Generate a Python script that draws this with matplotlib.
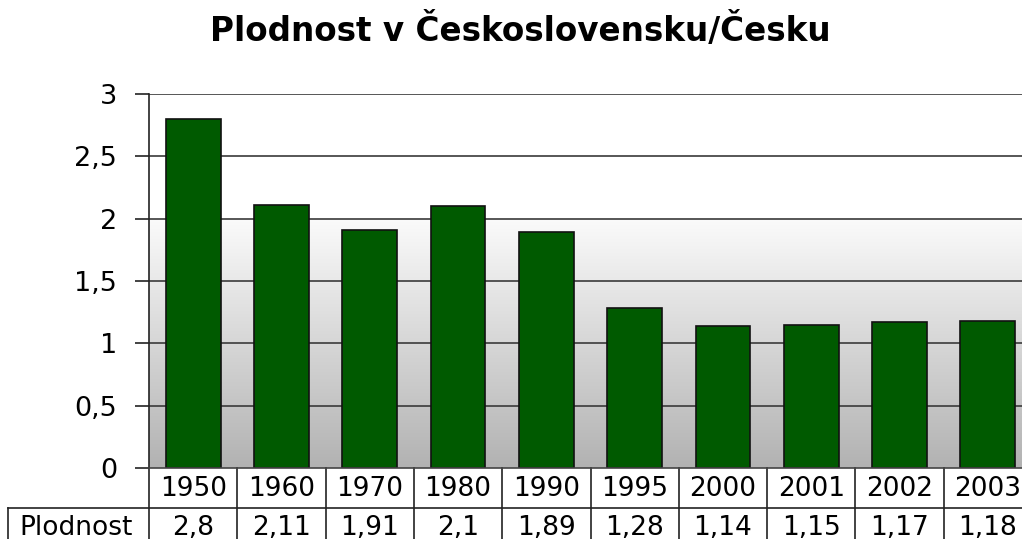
import numpy as np
import matplotlib
matplotlib.use("Agg")
import matplotlib.pyplot as plt
from matplotlib.colors import LinearSegmentedColormap
from matplotlib.transforms import blended_transform_factory

plt.rcParams["font.family"] = ["DejaVu Sans"]

years = ["1950", "1960", "1970", "1980", "1990", "1995", "2000", "2001", "2002", "2003"]
plodnost = [2.8, 2.11, 1.91, 2.1, 1.89, 1.28, 1.14, 1.15, 1.17, 1.18]
plodnost_labels = ["2,8", "2,11", "1,91", "2,1", "1,89", "1,28", "1,14", "1,15", "1,17", "1,18"]
yticks = [0, 0.5, 1, 1.5, 2, 2.5, 3]
ytick_labels = ["0", "0,5", "1", "1,5", "2", "2,5", "3"]

W, H = 1022, 539
fig = plt.figure(figsize=(W / 100, H / 100), dpi=100)
left, right, top, bottom = 149, 1032, 94, 468
ax = fig.add_axes([left / W, (H - bottom) / H, (right - left) / W, (bottom - top) / H])

n = len(years)
x = np.arange(n)
ax.set_xlim(-0.5, n - 0.5)
ax.set_ylim(0, 3)

# gradient background: grey at 0 to white at 2, white above
grad = np.linspace(0, 1, 256).reshape(-1, 1)
cmap = LinearSegmentedColormap.from_list("bg", ["#b2b2b2", "#fbfbfb"])
ax.imshow(grad, extent=(-0.5, n - 0.5, 0, 2), origin="lower", aspect="auto",
          cmap=cmap, zorder=0)

for yv in yticks[1:]:
    ax.axhline(yv, color="#3a3a3a", lw=1.2, zorder=1)

ax.bar(x, plodnost, width=0.62, color="#005a00", edgecolor="#111111", lw=1.2, zorder=2)

for s in ["top", "right", "bottom"]:
    ax.spines[s].set_visible(False)
ax.spines["left"].set_color("#222222")
ax.spines["left"].set_linewidth(1.2)
ax.set_yticks(yticks)
ax.set_yticklabels(ytick_labels, fontsize=19.5)
ax.tick_params(axis="y", length=10, width=1.2, color="#222222", pad=13)
ax.set_xticks([])

# data table below the axes
tr = blended_transform_factory(ax.transData, ax.transAxes)
ax_h = bottom - top
def ay(py):
    return (bottom - py) / ax_h

ax.plot([-0.5, n - 0.5], [0, 0], transform=tr, color="#444444", lw=1.2, clip_on=False, zorder=3)
for b in np.arange(-0.5, n, 1.0):
    ax.plot([b, b], [ay(468), ay(545)], transform=tr, color="#222222", lw=1.2, clip_on=False)
ax.plot([(8 - left) / ((right - left) / n) - 0.5, n - 0.5], [ay(508), ay(508)],
        transform=tr, color="#222222", lw=1.2, clip_on=False)
fig.add_artist(plt.Line2D([8 / W, 8 / W], [(H - 508) / H, 0], color="#222222", lw=1.2))

for xi, yr, lab in zip(x, years, plodnost_labels):
    ax.text(xi, ay(489), yr, transform=tr, ha="center", va="center", fontsize=19, clip_on=False)
    ax.text(xi, ay(528), lab, transform=tr, ha="center", va="center", fontsize=19, clip_on=False)
fig.text(76 / W, (H - 528) / H, "Plodnost", ha="center", va="center", fontsize=19)

fig.text(520 / W, (H - 30) / H, "Plodnost v Československu/Česku", ha="center", va="center",
         fontsize=23.5, fontweight="bold")

fig.savefig("out.png", dpi=100)
